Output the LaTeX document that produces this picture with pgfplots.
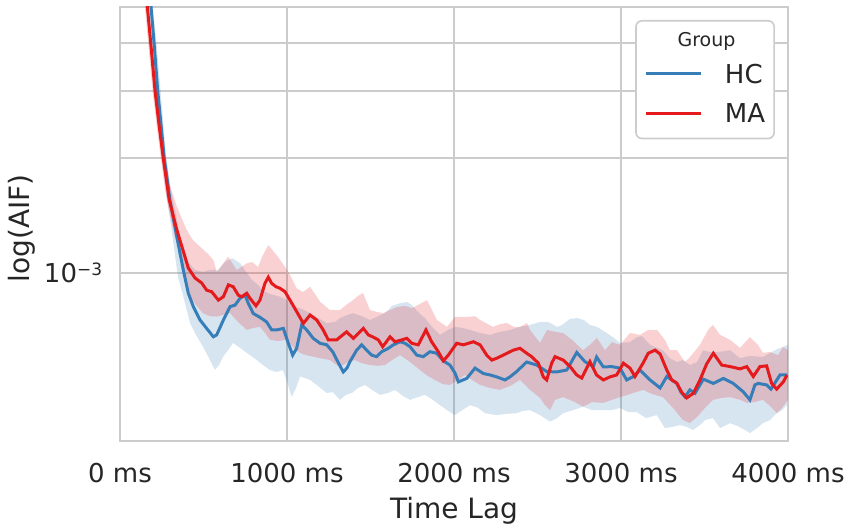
\documentclass[border=0pt]{standalone}
\usepackage{fontspec}
\setmainfont{DejaVu Sans}
\usepackage{pgfplots}
\usepackage{pgfplotstable}
\pgfplotsset{compat=1.18}
\usepgfplotslibrary{fillbetween}
\definecolor{hcblue}{RGB}{55,126,184}
\definecolor{mared}{RGB}{228,26,28}

% x: time lag in ms, y: log10(AIF)
\pgfplotstableread{
x y
150 -2.246
164 -2.304
184 -2.398
210 -2.524
234 -2.613
259 -2.699
295 -2.809
340 -2.887
377 -2.940
409 -2.987
449 -3.013
489 -3.026
519 -3.045
549 -3.049
589 -3.071
619 -3.062
649 -3.031
678 -3.036
708 -3.058
729 -3.062
759 -3.053
778 -3.066
814 -3.086
838 -3.071
868 -3.027
888 -3.011
908 -3.027
934 -3.036
958 -3.040
988 -3.049
1018 -3.071
1058 -3.101
1098 -3.132
1138 -3.110
1178 -3.123
1217 -3.149
1247 -3.175
1298 -3.175
1317 -3.168
1357 -3.154
1397 -3.171
1427 -3.158
1457 -3.145
1487 -3.162
1517 -3.168
1547 -3.175
1573 -3.193
1617 -3.167
1647 -3.180
1687 -3.175
1717 -3.171
1747 -3.184
1786 -3.188
1832 -3.149
1866 -3.180
1906 -3.206
1936 -3.230
1966 -3.215
2016 -3.184
2056 -3.188
2116 -3.180
2156 -3.188
2196 -3.215
2226 -3.228
2256 -3.223
2295 -3.215
2355 -3.202
2395 -3.197
2435 -3.210
2465 -3.219
2505 -3.236
2535 -3.272
2555 -3.280
2585 -3.236
2605 -3.219
2654 -3.228
2695 -3.245
2735 -3.267
2765 -3.275
2814 -3.232
2854 -3.267
2894 -3.280
2934 -3.272
2974 -3.267
3014 -3.236
3054 -3.249
3084 -3.271
3132 -3.236
3163 -3.210
3204 -3.202
3234 -3.212
3274 -3.254
3304 -3.280
3334 -3.288
3363 -3.312
3393 -3.327
3433 -3.315
3473 -3.280
3513 -3.238
3553 -3.210
3603 -3.241
3653 -3.245
3713 -3.251
3753 -3.245
3792 -3.271
3832 -3.245
3872 -3.243
3902 -3.289
3932 -3.304
3972 -3.285
3994 -3.267
}\maline

\pgfplotstableread{
x y
174 -2.246
186 -2.304
204 -2.398
226 -2.524
246 -2.613
265 -2.699
299 -2.809
340 -2.905
379 -2.992
409 -3.053
439 -3.088
479 -3.123
519 -3.145
559 -3.167
579 -3.162
619 -3.123
659 -3.088
689 -3.084
719 -3.066
749 -3.058
768 -3.079
798 -3.106
838 -3.116
878 -3.128
908 -3.149
938 -3.149
978 -3.145
1008 -3.184
1034 -3.215
1058 -3.197
1088 -3.136
1118 -3.149
1157 -3.171
1198 -3.184
1238 -3.188
1275 -3.207
1305 -3.233
1337 -3.259
1359 -3.249
1377 -3.232
1417 -3.202
1447 -3.188
1477 -3.202
1507 -3.215
1537 -3.219
1567 -3.206
1607 -3.197
1637 -3.188
1677 -3.180
1707 -3.184
1737 -3.193
1777 -3.215
1816 -3.219
1856 -3.206
1896 -3.210
1936 -3.230
1976 -3.241
2006 -3.262
2026 -3.285
2076 -3.276
2126 -3.249
2175 -3.263
2216 -3.267
2256 -3.272
2305 -3.280
2335 -3.272
2375 -3.258
2435 -3.233
2495 -3.241
2555 -3.258
2615 -3.259
2675 -3.254
2735 -3.208
2784 -3.232
2834 -3.245
2854 -3.220
2894 -3.246
2944 -3.245
2994 -3.249
3034 -3.280
3074 -3.271
3114 -3.254
3174 -3.280
3234 -3.301
3274 -3.271
3334 -3.289
3359 -3.312
3383 -3.324
3413 -3.306
3443 -3.315
3493 -3.278
3553 -3.289
3613 -3.276
3672 -3.289
3732 -3.311
3772 -3.332
3802 -3.293
3822 -3.289
3872 -3.293
3898 -3.304
3952 -3.267
3994 -3.267
}\hcline

\pgfplotstableread{
x y
138 -2.233
162 -2.285
186 -2.385
210 -2.495
240 -2.600
270 -2.691
299 -2.770
340 -2.826
399 -2.887
437 -2.914
479 -2.931
527 -2.950
559 -2.966
579 -2.997
599 -2.987
647 -2.957
699 -2.992
759 -2.975
790 -2.971
826 -2.984
856 -2.953
888 -2.927
938 -2.953
988 -2.984
1018 -3.005
1058 -3.040
1096 -3.050
1138 -3.036
1198 -3.075
1257 -3.097
1317 -3.097
1353 -3.084
1395 -3.071
1425 -3.060
1455 -3.052
1497 -3.097
1539 -3.102
1575 -3.105
1617 -3.097
1659 -3.089
1707 -3.086
1748 -3.092
1796 -3.081
1838 -3.071
1868 -3.097
1898 -3.123
1958 -3.141
2006 -3.115
2078 -3.115
2126 -3.113
2156 -3.123
2234 -3.141
2275 -3.134
2317 -3.131
2359 -3.141
2395 -3.141
2437 -3.131
2455 -3.149
2515 -3.183
2557 -3.149
2605 -3.154
2653 -3.157
2707 -3.175
2772 -3.202
2814 -3.188
2856 -3.170
2904 -3.202
2946 -3.181
2994 -3.188
3054 -3.157
3114 -3.162
3162 -3.149
3216 -3.149
3263 -3.175
3293 -3.202
3335 -3.202
3383 -3.233
3413 -3.220
3473 -3.188
3521 -3.149
3551 -3.136
3593 -3.162
3653 -3.175
3713 -3.196
3772 -3.168
3820 -3.188
3850 -3.209
3892 -3.207
3940 -3.215
3970 -3.194
4000 -3.202
}\maup

\pgfplotstableread{
x y
135 -2.246
149 -2.304
169 -2.398
195 -2.524
219 -2.613
244 -2.699
270 -2.783
299 -2.848
329 -2.906
359 -2.953
383 -2.992
401 -3.026
419 -3.062
455 -3.084
499 -3.106
539 -3.113
579 -3.114
617 -3.110
659 -3.105
707 -3.128
759 -3.149
796 -3.144
838 -3.141
868 -3.157
898 -3.175
946 -3.178
998 -3.175
1036 -3.194
1078 -3.209
1114 -3.215
1156 -3.219
1198 -3.223
1257 -3.228
1287 -3.238
1317 -3.246
1365 -3.233
1407 -3.228
1449 -3.236
1497 -3.241
1545 -3.243
1587 -3.241
1629 -3.228
1677 -3.215
1737 -3.233
1796 -3.254
1844 -3.270
1886 -3.280
1934 -3.291
1976 -3.293
2024 -3.280
2066 -3.267
2108 -3.280
2156 -3.293
2216 -3.301
2275 -3.306
2335 -3.296
2395 -3.280
2455 -3.306
2515 -3.327
2545 -3.346
2575 -3.359
2605 -3.332
2653 -3.325
2725 -3.338
2772 -3.350
2826 -3.338
2892 -3.340
2946 -3.332
2994 -3.325
3054 -3.317
3132 -3.306
3186 -3.317
3251 -3.325
3311 -3.353
3371 -3.385
3413 -3.393
3455 -3.377
3503 -3.353
3551 -3.332
3605 -3.327
3653 -3.325
3713 -3.332
3754 -3.340
3802 -3.338
3850 -3.332
3892 -3.348
3934 -3.367
3964 -3.353
4000 -3.332
}\malo

\pgfplotstableread{
x y
162 -2.233
192 -2.285
216 -2.385
240 -2.508
258 -2.600
275 -2.691
305 -2.783
341 -2.861
371 -2.927
407 -2.971
449 -2.992
497 -2.997
539 -2.992
587 -2.992
629 -2.971
671 -2.961
719 -2.974
755 -2.997
790 -3.018
826 -3.031
856 -3.045
898 -3.055
958 -3.062
1000 -3.071
1036 -3.088
1078 -3.092
1138 -3.105
1186 -3.118
1238 -3.131
1287 -3.128
1317 -3.118
1359 -3.110
1395 -3.105
1449 -3.113
1497 -3.123
1545 -3.113
1587 -3.105
1629 -3.086
1677 -3.079
1719 -3.076
1748 -3.084
1784 -3.102
1826 -3.118
1868 -3.141
1916 -3.162
1964 -3.149
2006 -3.141
2054 -3.144
2096 -3.149
2156 -3.157
2216 -3.162
2275 -3.154
2335 -3.149
2395 -3.141
2455 -3.136
2515 -3.128
2563 -3.128
2617 -3.141
2647 -3.136
2695 -3.120
2737 -3.118
2778 -3.123
2814 -3.136
2856 -3.141
2904 -3.154
2952 -3.168
2994 -3.183
3054 -3.181
3096 -3.168
3126 -3.165
3174 -3.188
3216 -3.196
3251 -3.202
3293 -3.223
3335 -3.233
3371 -3.228
3413 -3.241
3455 -3.233
3491 -3.202
3533 -3.207
3581 -3.207
3653 -3.202
3713 -3.223
3772 -3.217
3850 -3.220
3922 -3.202
4000 -3.188
}\hcup

\pgfplotstableread{
x y
159 -2.246
171 -2.304
189 -2.398
211 -2.524
231 -2.613
250 -2.699
281 -2.809
305 -2.874
329 -2.953
347 -3.010
377 -3.058
419 -3.131
455 -3.162
497 -3.193
539 -3.228
569 -3.254
593 -3.241
617 -3.219
647 -3.202
677 -3.183
719 -3.196
759 -3.209
819 -3.228
856 -3.241
898 -3.254
940 -3.259
976 -3.254
1006 -3.293
1028 -3.324
1054 -3.301
1078 -3.271
1108 -3.275
1138 -3.280
1186 -3.296
1238 -3.314
1275 -3.312
1317 -3.332
1353 -3.319
1389 -3.314
1425 -3.301
1467 -3.293
1509 -3.306
1557 -3.319
1605 -3.314
1647 -3.306
1695 -3.322
1737 -3.332
1784 -3.325
1826 -3.319
1874 -3.332
1916 -3.346
1958 -3.359
2006 -3.372
2048 -3.359
2096 -3.346
2144 -3.353
2186 -3.367
2256 -3.372
2305 -3.369
2375 -3.367
2413 -3.361
2455 -3.359
2515 -3.372
2575 -3.389
2617 -3.380
2653 -3.367
2713 -3.359
2772 -3.350
2826 -3.359
2892 -3.359
2946 -3.359
2994 -3.353
3042 -3.364
3094 -3.364
3150 -3.380
3214 -3.372
3263 -3.406
3305 -3.403
3353 -3.398
3395 -3.403
3431 -3.411
3473 -3.398
3503 -3.385
3551 -3.380
3593 -3.406
3653 -3.393
3701 -3.401
3743 -3.411
3772 -3.419
3814 -3.406
3850 -3.393
3892 -3.385
3932 -3.367
3964 -3.359
3994 -3.346
}\hclo

\begin{document}
\begin{tikzpicture}
\begin{axis}[
  at={(0pt,0pt)}, anchor=south west,
  scale only axis, width=334pt, height=217pt,
  xmin=0, xmax=4000,
  ymode=log, ymin=3.633e-4, ymax=4.970e-3,
  xtick={0,1000,2000,3000,4000},
  xticklabels={0 ms,1000 ms,2000 ms,3000 ms,4000 ms},
  ytick={0.001,0.002,0.003,0.004},
  yticklabels={{10\raisebox{3.3pt}{\fontsize{8.5}{8.5}\selectfont −3}},{},{},{}},
  yminorticks=false,
  grid=major,
  major grid style={draw=black!20, line width=0.8pt},
  axis line style={draw=black!20, line width=1pt},
  tick style={draw=none},
  major tick length=0pt,
  xticklabel style={font=\fontsize{13}{15}\selectfont, text=black!85, anchor=north, yshift=-7.7pt},
  yticklabel style={font=\fontsize{13}{15}\selectfont, text=black!85, anchor=east, xshift=-5.4pt},
  xlabel={Time Lag},
  ylabel={log(AIF)},
  xlabel style={font=\fontsize{14}{16}\selectfont, text=black!85, at={(axis description cs:0.5,0)}, anchor=north, yshift=-24.5pt},
  ylabel style={font=\fontsize{14}{16}\selectfont, text=black!85, at={(axis description cs:-0.116,0.49)}, anchor=south},
  legend style={at={(axis description cs:0.9805,0.970)}, anchor=north east,
    draw=black!20, line width=0.8pt, rounded corners=3pt, fill=white,
    inner xsep=4.5pt, inner ysep=2.25pt, column sep=11pt, row sep=0pt,
    nodes={inner sep=0pt, text depth=}, font=\fontsize{13}{15}\selectfont, text=black!85},
  legend cell align=left,
  legend image code/.code={\draw[#1] (0pt,0pt) -- (27.5pt,0pt);},
]
\addplot[draw=none, name path=hcU, forget plot] table[x=x, y expr={10^(\thisrow{y})}] {\hcup};
\addplot[draw=none, name path=hcL, forget plot] table[x=x, y expr={10^(\thisrow{y})}] {\hclo};
\addplot[draw=none, name path=maU, forget plot] table[x=x, y expr={10^(\thisrow{y})}] {\maup};
\addplot[draw=none, name path=maL, forget plot] table[x=x, y expr={10^(\thisrow{y})}] {\malo};
\addplot[fill=hcblue, fill opacity=0.2, draw=none, forget plot] fill between[of=hcU and hcL];
\addplot[fill=mared, fill opacity=0.2, draw=none, forget plot] fill between[of=maU and maL];
\addplot[hcblue, line width=1.5pt, forget plot] table[x=x, y expr={10^(\thisrow{y})}] {\hcline};
\addplot[mared, line width=1.5pt, forget plot] table[x=x, y expr={10^(\thisrow{y})}] {\maline};
\addlegendimage{empty legend}
\addlegendentry{\hspace{-23.7pt}\fontsize{9.5}{11}\selectfont\rule[-3.79pt]{0pt}{14.5pt}Group}
\addlegendimage{hcblue, line width=1.5pt}
\addlegendentry{\rule[-5.01pt]{0pt}{19.5pt}HC}
\addlegendimage{mared, line width=1.5pt}
\addlegendentry{\rule[-5.86pt]{0pt}{20.35pt}MA}
\end{axis}
\pgfresetboundingbox
\path[use as bounding box] (-60pt,-43.5pt) rectangle (365pt,220.5pt);
\end{tikzpicture}
\end{document}
